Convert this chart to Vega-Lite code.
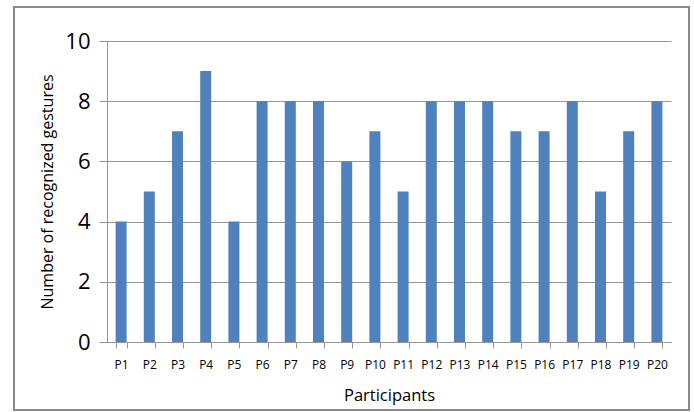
{
  "$schema": "https://vega.github.io/schema/vega-lite/v6.json",
  "autosize": "none",
  "width": 675,
  "height": 403,
  "padding": {"left": 14, "top": 7, "right": 5, "bottom": 2},
  "background": "white",
  "config": {
    "view": {"stroke": "#8a8a8a", "strokeWidth": 2},
    "font": "Open Sans"
  },
  "data": {
    "values": [
      {"participant": "P1", "count": 4},
      {"participant": "P2", "count": 5},
      {"participant": "P3", "count": 7},
      {"participant": "P4", "count": 9},
      {"participant": "P5", "count": 4},
      {"participant": "P6", "count": 8},
      {"participant": "P7", "count": 8},
      {"participant": "P8", "count": 8},
      {"participant": "P9", "count": 6},
      {"participant": "P10", "count": 7},
      {"participant": "P11", "count": 5},
      {"participant": "P12", "count": 8},
      {"participant": "P13", "count": 8},
      {"participant": "P14", "count": 8},
      {"participant": "P15", "count": 7},
      {"participant": "P16", "count": 7},
      {"participant": "P17", "count": 8},
      {"participant": "P18", "count": 5},
      {"participant": "P19", "count": 7},
      {"participant": "P20", "count": 8}
    ]
  },
  "mark": {"type": "bar", "color": "#4F81BD"},
  "encoding": {
    "x": {
      "field": "participant",
      "type": "nominal",
      "sort": null,
      "scale": {"range": [93, 657], "paddingInner": 0.61, "paddingOuter": 0.305},
      "axis": {
        "title": "Participants",
        "offset": -68,
        "labelAngle": 0,
        "labelFontSize": 12,
        "labelColor": "#000",
        "labelPadding": 11,
        "tickBand": "extent",
        "tickSize": 6,
        "tickColor": "#969696",
        "domainColor": "#969696",
        "titleFontSize": 16.5,
        "titleFontWeight": "normal",
        "titleColor": "#000",
        "titlePadding": 17,
        "grid": false
      }
    },
    "y": {
      "field": "count",
      "type": "quantitative",
      "scale": {"domain": [0, 10], "range": [335, 34], "nice": false},
      "axis": {
        "title": "Number of recognized gestures",
        "offset": -93,
        "values": [0, 2, 4, 6, 8, 10],
        "labelFontSize": 22,
        "labelColor": "#000",
        "labelPadding": 9,
        "tickSize": 8,
        "tickColor": "#969696",
        "domainColor": "#969696",
        "gridColor": "#969696",
        "titleFontSize": 16,
        "titleFontWeight": "normal",
        "titleColor": "#000",
        "titlePadding": 9
      }
    }
  }
}
